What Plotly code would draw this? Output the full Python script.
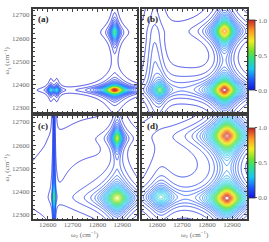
import numpy as np
import plotly.graph_objects as go

# ---- data: 2D peak parameters (cm^-1) ----
w2_grid = np.arange(12540, 12962, 2.0)   # omega_2 axis
w1_grid = np.arange(12280, 12727, 2.0)   # omega_1 axis

a_w2 = [12870, 12870, 12612, 12636]
a_w1 = [12375, 12625, 12375, 12375]
a_amp = [1.0, 0.45, 0.32, 0.32]
a_g2 = [32, 12, 8, 8]
a_g1 = [14, 28, 12, 12]

b_w2 = [12870, 12870, 12612, 12590, 12700]
b_w1 = [12375, 12630, 12375, 12500, 12400]
b_amp = [1.0, 0.85, 0.42, 0.10, 0.06]
b_g2 = [38, 30, 20, 30, 150]
b_g1 = [35, 40, 25, 200, 80]

c_w2 = [12625, 12625, 12880, 12880, 12760]
c_w1 = [12500, 12375, 12370, 12630, 12450]
c_amp = [0.13, 0.40, 0.62, 0.60, 0.05]
c_g2 = [2.5, 2.5, 40, 14, 200]
c_g1 = [900, 35, 40, 30, 200]

d_w2 = [12880, 12880, 12615, 12720]
d_w1 = [12370, 12640, 12375, 12480]
d_amp = [1.0, 1.0, 0.35, 0.05]
d_g2 = [45, 45, 40, 200]
d_g1 = [42, 48, 40, 200]

x_ticks = [12600, 12700, 12800, 12900]
x_tick_text = ["12600", "12700", "12800", "12900"]
y_ticks = [12300, 12400, 12500, 12600, 12700]
y_tick_text = ["12300", "12400", "12500", "12600", "12700"]
cbar_ticks = [0.0, 0.5, 1.0]
cbar_text = ["0.0", "0.5", "1.0"]
panel_labels = ["(a)", "(b)", "(c)", "(d)"]
x_title = "ω<sub>2</sub> (cm<sup>−1</sup>)"
y_title = "ω<sub>1</sub> (cm<sup>−1</sup>)"


def spectrum(c2, c1, amp, g2, g1):
    X, Y = np.meshgrid(w2_grid, w1_grid)
    Z = np.zeros_like(X)
    for p, q, a, s, t in zip(c2, c1, amp, g2, g1):
        Z += a / ((1 + ((X - p) / s) ** 2) * (1 + ((Y - q) / t) ** 2))
    return Z / Z.max() if Z.max() > 1 else Z


panels = [
    spectrum(a_w2, a_w1, a_amp, a_g2, a_g1),
    spectrum(b_w2, b_w1, b_amp, b_g2, b_g1),
    spectrum(c_w2, c_w1, c_amp, c_g2, c_g1),
    spectrum(d_w2, d_w1, d_amp, d_g2, d_g1),
]

rainbow = [
    [0.0, "#1414d8"], [0.15, "#1e5cff"], [0.3, "#18c8f0"], [0.45, "#30e080"],
    [0.55, "#70e030"], [0.7, "#f0ee20"], [0.85, "#ff9624"], [1.0, "#c82424"],
]

W, H = 269, 242
xdom = [[33 / W, 137 / W], [142 / W, 247 / W]]
ydom = [[1 - 112 / H, 1 - 9 / H], [1 - 219 / H, 1 - 116 / H]]

fig = go.Figure()
font_tick = dict(family="Liberation Serif", size=7, color="#6a6a6a")

for i, Z in enumerate(panels):
    ax = "" if i == 0 else str(i + 1)
    fig.add_trace(go.Contour(
        x=w2_grid, y=w1_grid, z=Z,
        xaxis="x" + ax, yaxis="y" + ax,
        colorscale=rainbow, zmin=0, zmax=1,
        contours=dict(coloring="lines", start=0.02, end=0.99, size=0.025),
        line=dict(width=0.8), showscale=False, hoverinfo="skip",
    ))

for k, yc in enumerate([1 - 55.5 / H, 1 - 162.5 / H]):
    ax = str(2 + 2 * k)
    fig.add_trace(go.Scatter(
        x=[12000], y=[12000], mode="markers", xaxis="x" + ax, yaxis="y" + ax,
        marker=dict(color=[0.5], colorscale=rainbow, cmin=0, cmax=1, showscale=True,
                    colorbar=dict(thickness=6.5, len=70, lenmode="pixels", x=248 / W,
                                  xanchor="left", xpad=0, y=yc, yanchor="middle", ypad=0,
                                  outlinewidth=0.8, outlinecolor="#333",
                                  tickvals=cbar_ticks, ticktext=cbar_text,
                                  ticks="outside", ticklen=2, tickcolor="#555",
                                  tickfont=font_tick)),
        showlegend=False, hoverinfo="skip"))

layout = dict(width=W, height=H, margin=dict(l=0, r=0, t=0, b=0),
              paper_bgcolor="white", plot_bgcolor="white", showlegend=False)

for i in range(4):
    row, col = divmod(i, 2)
    ax = "" if i == 0 else str(i + 1)
    common = dict(showline=True, linecolor="#3c3c3c", linewidth=2, mirror="allticks",
                  ticks="inside", ticklen=3, tickwidth=0.7, tickcolor="#444",
                  showgrid=False, zeroline=False, tickfont=font_tick)
    layout["xaxis" + ax] = dict(
        common, domain=xdom[col], range=[w2_grid[0], w2_grid[-1]],
        tickvals=x_ticks, ticktext=x_tick_text, anchor="y" + ax,
        ticklabelstandoff=-2,
        minor=dict(ticks="inside", ticklen=1.5, dtick=20, tick0=12600, tickcolor="#444"),
        showticklabels=(row == 1))
    layout["yaxis" + ax] = dict(
        common, domain=ydom[row], range=[w1_grid[0], w1_grid[-1]],
        tickvals=y_ticks, ticktext=y_tick_text, anchor="x" + ax,
        minor=dict(ticks="inside", ticklen=1.5, dtick=20, tick0=12300, tickcolor="#444"),
        showticklabels=(col == 0))

annotations = []
for i, lab in enumerate(panel_labels):
    ax = "" if i == 0 else str(i + 1)
    annotations.append(dict(text="<b>" + lab + "</b>", xref="x" + ax + " domain",
                            yref="y" + ax + " domain", x=0.03, y=0.97,
                            xanchor="left", yanchor="top", showarrow=False,
                            font=dict(family="Liberation Serif", size=9, color="#222")))
for col in range(2):
    annotations.append(dict(text=x_title, xref="paper", yref="paper",
                            x=sum(xdom[col]) / 2, y=1 - 234.5 / H, xanchor="center",
                            yanchor="middle", showarrow=False, font=font_tick))
for row in range(2):
    annotations.append(dict(text=y_title, xref="paper", yref="paper", textangle=-90,
                            x=7 / W, y=sum(ydom[row]) / 2, xanchor="center",
                            yanchor="middle", showarrow=False, font=font_tick))
layout["annotations"] = annotations
fig.update_layout(**layout)
fig.write_html("out.html", config={"displayModeBar": False},
               post_script="document.body.style.margin='0';")
